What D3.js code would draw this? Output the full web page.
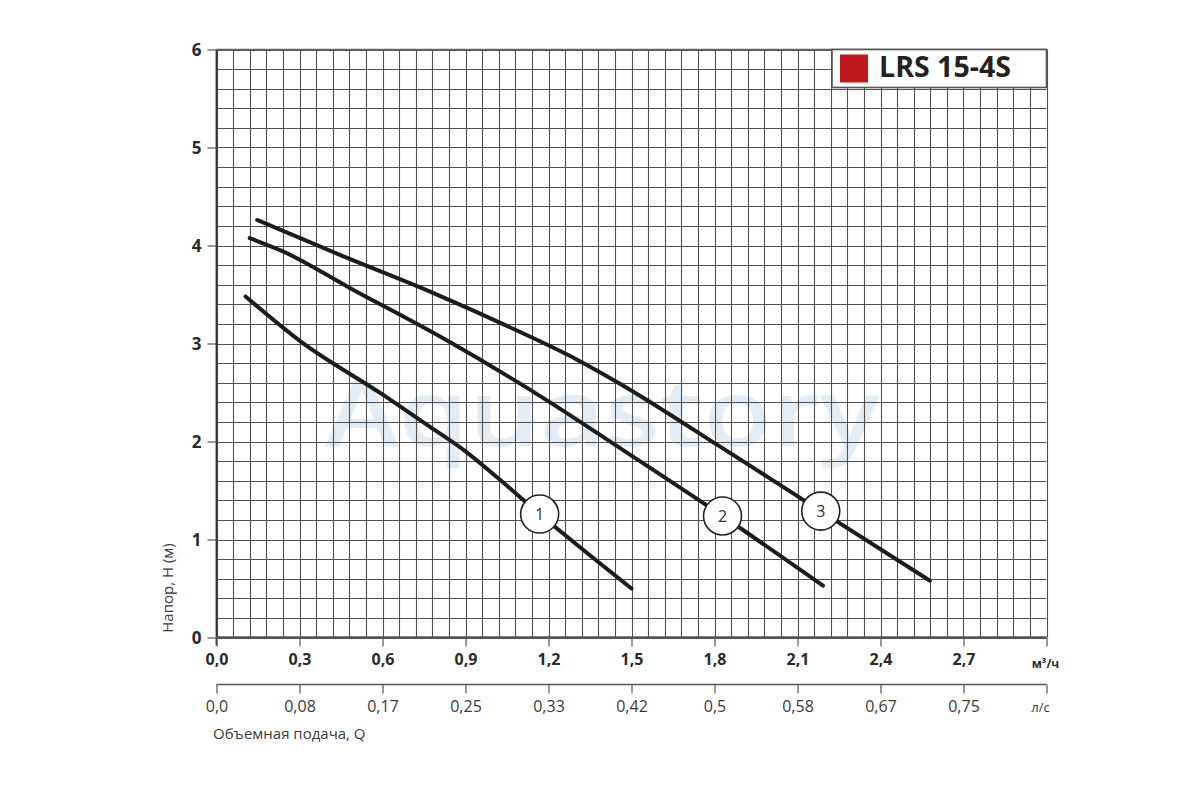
<!DOCTYPE html>
<html><head><meta charset="utf-8">
<script src="https://cdn.jsdelivr.net/npm/d3@7"></script>
<style>
html,body{margin:0;padding:0;background:#fff;}
svg{display:block;font-family:"Open Sans","Noto Sans",sans-serif;}
</style></head>
<body>
<svg id="chart" width="1200" height="800"></svg>
<script>
// ---- data ----
const flowTicksM3h = [0, 0.3, 0.6, 0.9, 1.2, 1.5, 1.8, 2.1, 2.4, 2.7, 3.0];
const flowLabelsM3h = ["0,0","0,3","0,6","0,9","1,2","1,5","1,8","2,1","2,4","2,7",""];
const flowLabelsLs = ["0,0","0,08","0,17","0,25","0,33","0,42","0,5","0,58","0,67","0,75",""];
const headTicks = [0, 1, 2, 3, 4, 5, 6];
const curve1 = [[0.105,3.48],[0.3,3.03],[0.6,2.48],[0.772,2.15],[0.9,1.90],[1.012,1.64],[1.168,1.26],[1.5,0.5]];
const curve2 = [[0.12,4.075],[0.24,3.94],[0.48,3.57],[0.84,3.02],[1.2,2.41],[1.46,1.93],[1.829,1.24],[2.192,0.53]];
const curve3 = [[0.147,4.26],[0.45,3.90],[0.772,3.53],[1.08,3.14],[1.3,2.84],[1.458,2.59],[1.819,1.95],[2.184,1.29],[2.578,0.58]];
const curveLabels = [["1",1.168,1.26],["2",1.829,1.24],["3",2.184,1.29]];
const legendTitle = "LRS 15-4S";

// ---- layout ----
const svg = d3.select("#chart");
const x = d3.scaleLinear().domain([0, 3]).range([216.5, 1046.5]);
const y = d3.scaleLinear().domain([0, 6]).range([637.5, 49.5]);

// watermark
svg.append("text")
  .attr("x", 325).attr("y", 446)
  .attr("textLength", 555).attr("lengthAdjust", "spacingAndGlyphs")
  .style("font-size", "92px").style("font-weight", 600)
  .attr("fill", "#e2ecf5")
  .text("Aquastory");

// grid
const grid = svg.append("g");
const vLines = d3.range(0, 51).map(i => i * 0.06);
const hLines = d3.range(0, 31).map(i => i * 0.2);
grid.selectAll("line.v").data(vLines).join("line")
  .attr("x1", d => Math.round(x(d)) + 0.5).attr("x2", d => Math.round(x(d)) + 0.5)
  .attr("y1", y(6)).attr("y2", y(0))
  .attr("stroke", "#505050").attr("stroke-width", 1.1);
grid.selectAll("line.h").data(hLines).join("line")
  .attr("y1", d => Math.round(y(d)) + 0.5).attr("y2", d => Math.round(y(d)) + 0.5)
  .attr("x1", x(0)).attr("x2", x(3))
  .attr("stroke", "#505050").attr("stroke-width", 1.1);
// left border
svg.append("line").attr("x1", x(0)).attr("x2", x(0)).attr("y1", y(6)).attr("y2", y(0) + 8)
  .attr("stroke", "#333").attr("stroke-width", 1.8);
// top border
svg.append("line").attr("x1", x(0)).attr("x2", x(3)).attr("y1", y(6)).attr("y2", y(6))
  .attr("stroke", "#666").attr("stroke-width", 1.5);

// y axis
const yAxis = d3.axisLeft(y).tickValues(headTicks).tickSize(9).tickFormat(d => d);
const gy = svg.append("g").attr("transform", `translate(${x(0)},0)`).call(yAxis);
gy.select(".domain").remove();
gy.selectAll(".tick line").attr("stroke", "#555").attr("stroke-width", 1.2);
gy.selectAll(".tick text").attr("x", -15).attr("dy", "0.34em")
  .style("font-size", "17px").style("font-weight", 700).attr("fill", "#2a2a2a")
  .style("font-family", "'Open Sans', sans-serif");

// x axis (m3/h)
const xAxis1 = d3.axisBottom(x).tickValues(flowTicksM3h).tickSize(9)
  .tickFormat((d, i) => flowLabelsM3h[i]);
const gx1 = svg.append("g").attr("transform", `translate(0,${y(0)})`).call(xAxis1);
gx1.select(".domain").attr("stroke", "#555").attr("stroke-width", 2.5).attr("d", `M${x(0)},0H${x(3)}`);
gx1.selectAll(".tick line").attr("stroke", "#555").attr("stroke-width", 1.2);
gx1.selectAll(".tick text").attr("y", 22).attr("dy", "0.32em")
  .style("font-size", "16px").style("font-weight", 700).attr("fill", "#2a2a2a")
  .style("font-family", "'Open Sans', sans-serif");
svg.append("text").attr("x", x(3) - 1).attr("y", 668).attr("text-anchor", "middle")
  .style("font-size", "12px").style("font-weight", 700).attr("fill", "#2a2a2a")
  .text("м³/ч");

// x axis (l/s)
const axis2Y = 684.5;
const xAxis2 = d3.axisBottom(x).tickValues(flowTicksM3h).tickSize(9)
  .tickFormat((d, i) => flowLabelsLs[i]);
const gx2 = svg.append("g").attr("transform", `translate(0,${axis2Y})`).call(xAxis2);
gx2.select(".domain").attr("stroke", "#555").attr("stroke-width", 1.6).attr("d", `M${x(0)},0H${x(3)}`);
gx2.selectAll(".tick line").attr("stroke", "#555").attr("stroke-width", 1.2);
gx2.selectAll(".tick text").attr("y", 22).attr("dy", "0.32em")
  .style("font-size", "16px").style("font-weight", 400).attr("fill", "#3a3a3a")
  .style("font-family", "'Open Sans', sans-serif");
svg.append("text").attr("x", x(3) - 6).attr("y", 712).attr("text-anchor", "middle")
  .style("font-size", "13px").attr("fill", "#3a3a3a").text("л/с");

svg.append("text").attr("x", 213).attr("y", 739)
  .style("font-size", "15px").attr("fill", "#3a3a3a").text("Объемная подача, Q");

svg.append("text")
  .attr("transform", `translate(173,588) rotate(-90)`).attr("text-anchor", "middle")
  .style("font-size", "15px").attr("fill", "#3a3a3a").text("Напор, Н (м)");

// curves
const line = d3.line().x(d => x(d[0])).y(d => y(d[1])).curve(d3.curveMonotoneX);
[curve1, curve2, curve3].forEach(c => {
  svg.append("path").datum(c).attr("d", line)
    .attr("fill", "none").attr("stroke", "#1c1c1c").attr("stroke-width", 4)
    .attr("stroke-linecap", "round");
});

// curve labels
const lab = svg.append("g").selectAll("g").data(curveLabels).join("g")
  .attr("transform", d => `translate(${x(d[1])},${y(d[2])})`);
lab.append("circle").attr("r", 19).attr("fill", "#fff").attr("stroke", "#222").attr("stroke-width", 1.6);
lab.append("text").attr("text-anchor", "middle").attr("dy", "0.36em")
  .style("font-size", "16px").attr("fill", "#333").text(d => d[0]);

// legend
svg.append("rect").attr("x", 832).attr("y", 49.5).attr("width", 214.5).attr("height", 38)
  .attr("fill", "#fff").attr("stroke", "#555").attr("stroke-width", 1.6);
svg.append("rect").attr("x", 840).attr("y", 54.5).attr("width", 28).attr("height", 28)
  .attr("fill", "#c0181f");
svg.append("text").attr("x", 879).attr("y", 77)
  .attr("textLength", 132).attr("lengthAdjust", "spacingAndGlyphs")
  .style("font-size", "28px").style("font-weight", 700).attr("fill", "#222")
  .text(legendTitle);
</script>
</body></html>
